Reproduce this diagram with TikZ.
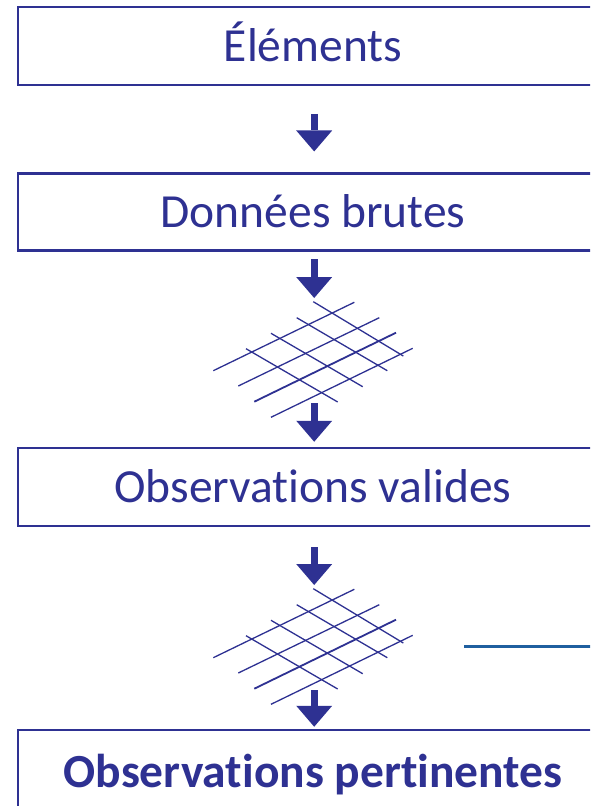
\documentclass[tikz,border=0pt]{standalone}
\usepackage{fontspec}
\setmainfont{Carlito}[Ligatures=NoCommon]
\usetikzlibrary{arrows.meta}
\definecolor{navy}{HTML}{2E3192}
\definecolor{steel}{HTML}{1F5F9F}
\begin{document}
\begin{tikzpicture}[x=1pt,y=-1pt,
  stagebox/.style={draw=navy,line width=2.5pt,minimum width=590pt,minimum height=78pt,
    inner sep=0pt,text height=30pt,text depth=0pt,text=navy,font=\fontsize{47.5}{52}\selectfont},
  flowarrow/.style={draw=navy,line width=7pt,-{Triangle[width=36pt,length=21pt,line width=0pt,fill=navy]}},
  gridline/.style={draw=navy,line width=1.3pt},
  netgrid/.pic={
    \draw[gridline] (313.3,301.7)--(403.3,356);
    \draw[gridline] (296.7,317.7)--(387.3,370.7);
    \draw[gridline] (271,333.3)--(362.7,386.7);
    \draw[gridline] (246,348.7)--(337.7,402);
    \draw[gridline] (213.3,370.7)--(354.3,302.3);
    \draw[gridline] (238.3,386)--(379.3,317.7);
    \draw[gridline,line width=1.8pt] (254.3,401.7)--(396,332.7);
    \draw[gridline] (271,417.3)--(412.7,348.3);
  }]
\useasboundingbox (0,0) rectangle (590,806);
\clip (0,0) rectangle (590,806);
\fill[white] (0,0) rectangle (590,806);

\node[stagebox,minimum height=77.8pt] (box1) at (313,46.1) {Éléments};
\node[stagebox,minimum height=76.8pt] (box2) at (313,212.1) {Données brutes};
\node[stagebox] (box3) at (313,487) {Observations valides};
\node[stagebox,minimum height=84pt,font=\fontsize{47.5}{52}\selectfont\bfseries] (box4) at (313,772) {Observations pertinentes};

\pic at (0,0) {netgrid};
\pic at (0,287) {netgrid};

\coordinate (g1top) at (314.2,298);
\coordinate (g1bot) at (314.2,403);
\coordinate (g2top) at (314.2,585);
\coordinate (g2bot) at (314.2,690);

\draw[flowarrow,shorten <=27.7pt,shorten >=21pt] ([xshift=1.2pt]box1.south) -- ([xshift=1.2pt]box2.north);
\draw[flowarrow,shorten <=7.5pt] ([xshift=1.2pt]box2.south) -- (g1top);
\draw[flowarrow,shorten >=5pt] (g1bot) -- ([xshift=1.2pt]box3.north);
\draw[flowarrow,shorten <=20pt] ([xshift=1.2pt]box3.south) -- (g2top);
\draw[flowarrow,shorten >=2pt] (g2bot) -- ([xshift=1.2pt]box4.north);

\coordinate (ln1) at (464,646);
\coordinate (ln2) at (592,646);
\draw[steel,line width=3pt] (ln1) -- (ln2);
\end{tikzpicture}
\end{document}
